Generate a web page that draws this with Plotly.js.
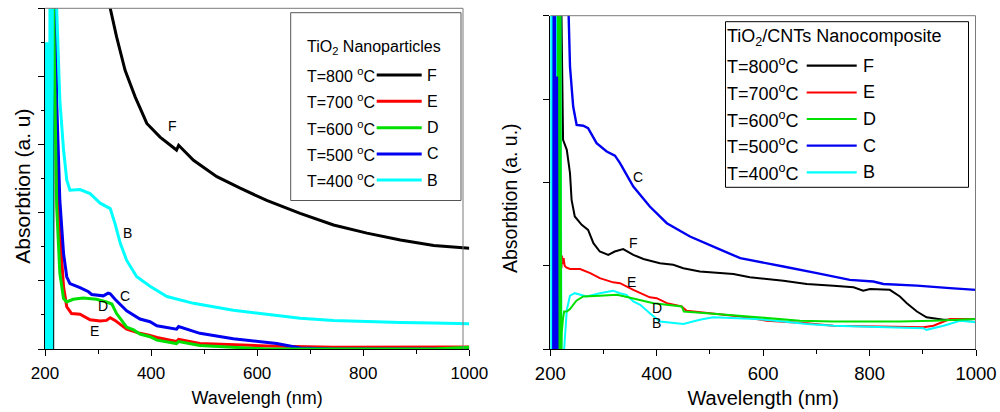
<!DOCTYPE html>
<html><head><meta charset="utf-8">
<script src="https://cdn.plot.ly/plotly-3.0.1.min.js"></script>
<style>html,body{margin:0;padding:0;background:#fff;} #chart{width:1000px;height:412px;}</style>
</head><body><div id="chart"></div>
<script>
// ---------- Left panel: TiO2 Nanoparticles ----------
var npF_x = [214.5, 215.7, 300, 323, 335, 351, 370, 392, 417, 448, 452, 480, 524, 568, 618, 681, 744, 807, 870, 933, 1000];
var npF_y = [0, 7, 7, 5.0, 4.58, 4.09, 3.70, 3.31, 3.11, 2.92, 2.99, 2.77, 2.53, 2.36, 2.18, 1.99, 1.82, 1.70, 1.60, 1.52, 1.48];

var npE_x = [217.6, 222, 228, 235, 241, 250, 266, 275, 285, 304, 316, 323, 332, 354, 379, 398, 411, 448, 452, 492, 555, 618, 744, 1000];
var npE_y = [5.2, 3.16, 1.70, 0.91, 0.62, 0.52, 0.51, 0.47, 0.43, 0.41, 0.42, 0.46, 0.42, 0.29, 0.23, 0.20, 0.17, 0.11, 0.14, 0.08, 0.06, 0.044, 0.024, 0.03];

var npD_x = [215.7, 222, 228, 235, 241, 253, 272, 297, 316, 326, 335, 354, 367, 379, 398, 411, 448, 452, 492, 555, 618, 744, 933, 1000];
var npD_y = [5.2, 2.09, 1.11, 0.74, 0.69, 0.73, 0.75, 0.73, 0.69, 0.66, 0.52, 0.32, 0.28, 0.22, 0.18, 0.13, 0.08, 0.11, 0.05, 0.02, 0.0, 0.0, 0.0, 0.025];

var npC_x = [219.5, 222, 228, 235, 241, 247, 266, 282, 288, 310, 319, 323, 332, 354, 379, 398, 411, 448, 452, 492, 555, 606, 637, 681, 744, 1000];
var npC_y = [5.2, 3.65, 2.18, 1.40, 1.06, 0.96, 0.90, 0.84, 0.80, 0.78, 0.82, 0.81, 0.73, 0.56, 0.44, 0.40, 0.34, 0.29, 0.33, 0.23, 0.15, 0.10, 0.08, 0.015, 0.0, 0.0];

var npB_x = [200.8, 201.6, 202.6, 203.6, 204.6, 205.6, 206.6, 207.6, 208.6, 209.6, 210.6, 211.6, 212.6, 213.6, 214.3, 220, 222, 228, 235, 241, 247, 266, 285, 304, 323, 332, 342, 354, 373, 398, 430, 480, 555, 618, 681, 744, 807, 870, 933, 1000];
var npB_y = [-0.1, 4.5, -0.1, 4.5, -0.1, 4.45, -0.1, 4.4, -0.1, 7, -0.1, 7, -0.1, 7, 7, 7, 5.0, 3.65, 2.92, 2.48, 2.33, 2.34, 2.28, 2.14, 2.06, 1.84, 1.55, 1.30, 1.06, 0.92, 0.77, 0.67, 0.57, 0.51, 0.45, 0.42, 0.40, 0.39, 0.38, 0.37];

// ---------- Right panel: TiO2/CNTs Nanocomposite ----------
var ncF_x = [219.5, 221, 224, 231, 237, 240, 246, 259, 271, 281, 293, 309, 321, 337, 356, 375, 406, 431, 450, 481, 544, 575, 638, 682, 732, 770, 788, 801, 838, 857, 870, 889, 907, 920, 939, 970, 1000];
var ncF_y = [4.3, 4.0, 2.51, 2.39, 2.11, 1.79, 1.59, 1.49, 1.43, 1.27, 1.17, 1.13, 1.17, 1.20, 1.13, 1.08, 1.03, 1.01, 0.97, 0.93, 0.90, 0.86, 0.82, 0.78, 0.76, 0.74, 0.70, 0.72, 0.71, 0.63, 0.55, 0.45, 0.38, 0.37, 0.35, 0.35, 0.36];

var ncE_x = [221, 222, 223, 225, 227, 230, 237, 256, 275, 293, 318, 331, 356, 387, 400, 419, 447, 456, 513, 557, 607, 669, 682, 732, 807, 857, 901, 920, 951, 970, 1000];
var ncE_y = [0.97, 1.12, 1.02, 1.09, 1.00, 0.98, 0.96, 0.96, 0.91, 0.85, 0.80, 0.79, 0.71, 0.62, 0.61, 0.55, 0.51, 0.46, 0.42, 0.39, 0.34, 0.32, 0.31, 0.28, 0.27, 0.26, 0.26, 0.28, 0.36, 0.36, 0.36];

var ncD_x = [213.5, 214.5, 215.5, 216.5, 217.5, 218.5, 220.5, 221.5, 224, 226, 231, 237, 249, 256, 262, 293, 325, 340, 369, 394, 447, 451, 513, 557, 607, 669, 732, 807, 857, 920, 1000];
var ncD_y = [-0.1, 5, -0.1, 5, -0.1, 5, -0.2, 0.2, 0.37, 0.45, 0.45, 0.48, 0.58, 0.61, 0.63, 0.64, 0.65, 0.63, 0.59, 0.55, 0.51, 0.45, 0.42, 0.40, 0.37, 0.34, 0.33, 0.33, 0.33, 0.34, 0.36];

var ncC_x = [205.6, 206.5, 207.5, 208.5, 209.5, 210.5, 211.5, 212.5, 213.2, null, 232, 235, 237, 243, 249.5, 262, 271, 287, 306, 321.5, 331, 356, 387, 419, 462.5, 513, 557, 638, 682, 701, 763, 807, 826, 889, 951, 1000];
var ncC_y = [-0.1, 5, -0.1, 5, -0.1, 3.27, -0.1, 3.27, -0.1, null, 4.6, 3.6, 3.39, 2.91, 2.69, 2.68, 2.65, 2.47, 2.37, 2.32, 2.23, 1.95, 1.71, 1.51, 1.35, 1.21, 1.09, 0.99, 0.93, 0.91, 0.83, 0.81, 0.78, 0.76, 0.73, 0.71];

var ncB_x = [200.6, 201.5, 202.5, 203.5, 204.5, 205.5, 206.5, 207.5, 208.5, 209.5, 210.5, 211.5, 212.5, 213.5, 214.5, 215.5, 216.5, 217.5, 218.5, 221, 225, 231, 237, 246, 268, 293, 318, 331, 343, 356, 369, 387, 406, 450, 481, 506, 588, 638, 682, 732, 795, 857, 901, 907, 939, 970, 1000];
var ncB_y = [-0.1, 5, -0.1, 5, -0.1, 5, -0.1, 5, -0.1, 5, -0.1, 5, -0.1, 5, -0.1, 5, -0.1, 5, 5, -0.2, -0.1, 0.47, 0.64, 0.67, 0.63, 0.67, 0.70, 0.67, 0.65, 0.57, 0.53, 0.43, 0.33, 0.30, 0.35, 0.38, 0.36, 0.33, 0.30, 0.28, 0.27, 0.26, 0.25, 0.23, 0.28, 0.34, 0.32];

// ---------- Legend / labels ----------
var tempLabels = ['T=800', 'T=700', 'T=600', 'T=500', 'T=400'];
var sampleLetters = ['F', 'E', 'D', 'C', 'B'];
var leftTitle = 'TiO<sub>2</sub> Nanoparticles';
var rightTitle = 'TiO<sub>2</sub>/CNTs Nanocomposite';
var xTitleLeft = 'Wavelengh (nm)';
var xTitleRight = 'Wavelength (nm)';
var yTitleLeft = 'Absorbtion (a. u)';
var yTitleRight = 'Absorbtion (a. u.)';

var COLORS = {F: '#000000', E: '#ff0000', D: '#00e000', C: '#0000f0', B: '#00ffff'};
var FONT = 'Arial, "Liberation Sans", sans-serif';
var W = 1000, H = 412;
function PX(p) { return p / W; }
function PY(p) { return (H - p) / H; }

var traces = [];
function addTrace(x, y, letter, width, xa, ya) {
  traces.push({type: 'scatter', mode: 'lines', x: x, y: y, xaxis: xa, yaxis: ya,
    line: {color: COLORS[letter], width: width}, connectgaps: false, hoverinfo: 'skip', showlegend: false});
}
addTrace(npF_x, npF_y, 'F', 3, 'x', 'y');
addTrace(npE_x, npE_y, 'E', 3, 'x', 'y');
addTrace(npC_x, npC_y, 'C', 3, 'x', 'y');
addTrace(npD_x, npD_y, 'D', 3, 'x', 'y');
addTrace(npB_x, npB_y, 'B', 3, 'x', 'y');

addTrace(ncF_x, ncF_y, 'F', 2, 'x2', 'y2');
addTrace(ncE_x, ncE_y, 'E', 2, 'x2', 'y2');
addTrace(ncB_x, ncB_y, 'B', 2, 'x2', 'y2');
addTrace(ncD_x, ncD_y, 'D', 2, 'x2', 'y2');
addTrace(ncC_x, ncC_y, 'C', 2.4, 'x2', 'y2');

var shapes = [];
var annotations = [];

// frames (top/right gray borders)
var gray = '#7a7a7a';
shapes.push({type: 'line', xref: 'paper', yref: 'paper', x0: PX(45), x1: PX(463), y0: PY(8.3), y1: PY(8.3), line: {color: gray, width: 1}});
shapes.push({type: 'line', xref: 'paper', yref: 'paper', x0: PX(463), x1: PX(463), y0: PY(8.3), y1: PY(349), line: {color: gray, width: 1}});
shapes.push({type: 'line', xref: 'paper', yref: 'paper', x0: PX(550.3), x1: PX(975.5), y0: PY(15.7), y1: PY(15.7), line: {color: gray, width: 1}});
shapes.push({type: 'line', xref: 'paper', yref: 'paper', x0: PX(975.5), x1: PX(975.5), y0: PY(15.7), y1: PY(349), line: {color: gray, width: 1}});

// y-axis titles
annotations.push({xref: 'paper', yref: 'paper', x: PX(21.7), y: PY(186), xanchor: 'center', yanchor: 'middle', textangle: -90, showarrow: false, text: yTitleLeft, font: {family: FONT, size: 21, color: '#000'}});
annotations.push({xref: 'paper', yref: 'paper', x: PX(510), y: PY(198), xanchor: 'center', yanchor: 'middle', textangle: -90, showarrow: false, text: yTitleRight, font: {family: FONT, size: 19.5, color: '#000'}});

// left legend
shapes.push({type: 'rect', xref: 'paper', yref: 'paper', x0: PX(290.7), x1: PX(461), y0: PY(12.7), y1: PY(200.5), line: {color: '#555', width: 1}, fillcolor: 'rgba(255,255,255,0)'});
annotations.push({xref: 'paper', yref: 'paper', x: PX(305), y: PY(48), xanchor: 'left', yanchor: 'middle', showarrow: false, text: leftTitle, font: {family: FONT, size: 16, color: '#000'}});
var leftRowY = [75, 101.3, 127.7, 154, 180];
for (var i = 0; i < 5; i++) {
  var L = sampleLetters[i];
  annotations.push({xref: 'paper', yref: 'paper', x: PX(305), y: PY(leftRowY[i]), xanchor: 'left', yanchor: 'middle', showarrow: false, text: tempLabels[i] + ' <sup>o</sup>C', font: {family: FONT, size: 16, color: '#000'}});
  shapes.push({type: 'line', xref: 'paper', yref: 'paper', x0: PX(376.7), x1: PX(421.7), y0: PY(leftRowY[i]), y1: PY(leftRowY[i]), line: {color: COLORS[L], width: 3}});
  annotations.push({xref: 'paper', yref: 'paper', x: PX(424.5), y: PY(leftRowY[i]), xanchor: 'left', yanchor: 'middle', showarrow: false, text: L, font: {family: FONT, size: 16, color: '#000'}});
}

// right legend
shapes.push({type: 'rect', xref: 'paper', yref: 'paper', x0: PX(725.5), x1: PX(968.5), y0: PY(21.7), y1: PY(187.3), line: {color: '#000', width: 1}, fillcolor: 'rgba(255,255,255,0)'});
annotations.push({xref: 'paper', yref: 'paper', x: PX(724.5), y: PY(38), xanchor: 'left', yanchor: 'middle', showarrow: false, text: rightTitle, font: {family: FONT, size: 18, color: '#000'}});
var rightRowY = [65.7, 92.5, 119, 145.7, 172.3];
for (var j = 0; j < 5; j++) {
  var R = sampleLetters[j];
  annotations.push({xref: 'paper', yref: 'paper', x: PX(724.5), y: PY(rightRowY[j]), xanchor: 'left', yanchor: 'middle', showarrow: false, text: tempLabels[j] + '<sup>o</sup>C', font: {family: FONT, size: 18, color: '#000'}});
  shapes.push({type: 'line', xref: 'paper', yref: 'paper', x0: PX(806.7), x1: PX(856.7), y0: PY(rightRowY[j]), y1: PY(rightRowY[j]), line: {color: COLORS[R], width: 2.2}});
  annotations.push({xref: 'paper', yref: 'paper', x: PX(860.5), y: PY(rightRowY[j]), xanchor: 'left', yanchor: 'middle', showarrow: false, text: R, font: {family: FONT, size: 18, color: '#000'}});
}

// curve letter labels
function lab(x, y, t, xa, ya) {
  annotations.push({xref: xa, yref: ya, x: x, y: y, text: t, showarrow: false, xanchor: 'center', yanchor: 'middle', font: {family: FONT, size: 14, color: '#000'}});
}
lab(441, 3.28, 'F', 'x', 'y');
lab(356, 1.70, 'B', 'x', 'y');
lab(351, 0.78, 'C', 'x', 'y');
lab(310, 0.63, 'D', 'x', 'y');
lab(293, 0.27, 'E', 'x', 'y');
lab(365, 2.06, 'C', 'x2', 'y2');
lab(356, 1.27, 'F', 'x2', 'y2');
lab(353, 0.81, 'E', 'x2', 'y2');
lab(400, 0.49, 'D', 'x2', 'y2');
lab(400, 0.31, 'B', 'x2', 'y2');

function xAxis(domain, yanchor, tsize, title, tfsize, lstand, tstand) {
  return {domain: domain, anchor: yanchor, range: [200, 1000], tick0: 200, dtick: 200,
    ticks: 'outside', ticklen: 6, tickwidth: 1, tickcolor: '#000', ticklabelstandoff: lstand,
    minor: {tick0: 200, dtick: 100, ticks: 'outside', ticklen: 3.5, tickwidth: 1, tickcolor: '#000'},
    showline: true, linecolor: '#000', linewidth: 1, showgrid: false, zeroline: false,
    tickfont: {family: FONT, size: tsize, color: '#000'},
    title: {text: title, font: {family: FONT, size: tfsize, color: '#000'}, standoff: tstand}};
}
function yAxis(domain, xanchor, rmax, minor) {
  var a = {domain: domain, anchor: xanchor, range: [0, rmax], tick0: 0, dtick: 1,
    ticks: 'outside', ticklen: 6, tickwidth: 1, tickcolor: '#000', showticklabels: false,
    showline: true, linecolor: '#000', linewidth: 1, showgrid: false, zeroline: false};
  if (minor) a.minor = {tick0: 0, dtick: 0.5, ticks: 'outside', ticklen: 3.5, tickwidth: 1, tickcolor: '#000'};
  return a;
}

var layout = {
  width: W, height: H,
  margin: {l: 0, r: 0, t: 0, b: 0},
  paper_bgcolor: '#fff', plot_bgcolor: '#fff',
  showlegend: false,
  font: {family: FONT, color: '#000'},
  xaxis: xAxis([PX(45), PX(469.3)], 'y', 17, xTitleLeft, 18, 3, 8),
  yaxis: yAxis([PY(349), PY(8.3)], 'x', 5, true),
  xaxis2: xAxis([PX(550.3), PX(976)], 'y2', 18.5, xTitleRight, 20, 2, 7),
  yaxis2: yAxis([PY(349), PY(15.7)], 'x2', 4, false),
  shapes: shapes,
  annotations: annotations
};

Plotly.newPlot('chart', traces, layout, {staticPlot: true, displayModeBar: false});
</script></body></html>
